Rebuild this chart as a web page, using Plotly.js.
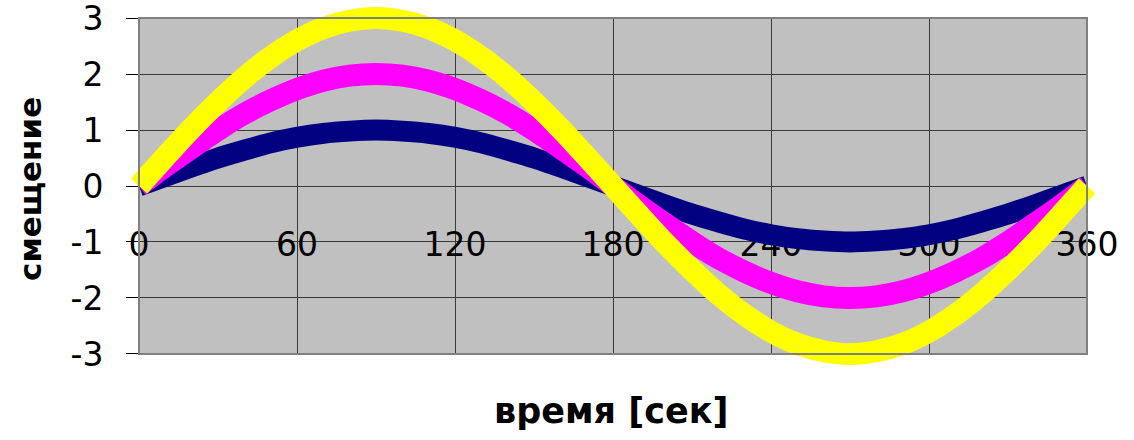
<!DOCTYPE html>
<html>
<head>
<meta charset="utf-8">
<script src="https://cdn.plot.ly/plotly-3.0.1.min.js"></script>
<style>html,body{margin:0;padding:0;background:#fff;}#chart{width:1134px;height:440px;}</style>
</head>
<body>
<div id="chart"></div>
<script>
var xTime = [0,10,20,30,40,50,60,70,80,90,100,110,120,130,140,150,160,170,180,190,200,210,220,230,240,250,260,270,280,290,300,310,320,330,340,350,360];
var amp1 = [0,0.17,0.34,0.5,0.64,0.77,0.87,0.94,0.98,1,0.98,0.94,0.87,0.77,0.64,0.5,0.34,0.17,0,-0.17,-0.34,-0.5,-0.64,-0.77,-0.87,-0.94,-0.98,-1,-0.98,-0.94,-0.87,-0.77,-0.64,-0.5,-0.34,-0.17,0];
var amp2 = [0,0.35,0.68,1,1.29,1.53,1.73,1.88,1.97,2,1.97,1.88,1.73,1.53,1.29,1,0.68,0.35,0,-0.35,-0.68,-1,-1.29,-1.53,-1.73,-1.88,-1.97,-2,-1.97,-1.88,-1.73,-1.53,-1.29,-1,-0.68,-0.35,0];
var amp3 = [0,0.52,1.03,1.5,1.93,2.3,2.6,2.82,2.95,3,2.95,2.82,2.6,2.3,1.93,1.5,1.03,0.52,0,-0.52,-1.03,-1.5,-1.93,-2.3,-2.6,-2.82,-2.95,-3,-2.95,-2.82,-2.6,-2.3,-1.93,-1.5,-1.03,-0.52,0];
var xTicks = [0,60,120,180,240,300,360];
var yTicks = [-3,-2,-1,0,1,2,3];
var xTitle = 'время [сек]';
var yTitle = 'смещение';

// page geometry (px)
var W = 1134, H = 440;
var M = {l: 110, r: 20, t: 2, b: 70};
var PL = 139, PR = 1087, PT = 18, PB = 354; // plot area box
var paperW = W - M.l - M.r, paperH = H - M.t - M.b;
function px2x(p) { return (p - M.l) / paperW; }
function py2y(p) { return (H - M.b - p) / paperH; }
var xMin = 0, xMax = 360, yMin = -3, yMax = 3;
var eps = 0.0005;
var xPerPx = (xMax - xMin) / (PR - PL), yPerPx = (yMax - yMin) / (PB - PT);
var x2Range = [xMin - (PL - M.l) * xPerPx, xMax + (W - M.r - PR) * xPerPx];
var y2Range = [yMin - (H - M.b - PB) * yPerPx, yMax + (PT - M.t) * yPerPx];

function tr(y, color, w) {
  return {x: xTime, y: y, xaxis: 'x2', yaxis: 'y2', type: 'scatter', mode: 'lines',
          line: {color: color, width: w, shape: 'spline', smoothing: 0.8, simplify: false}, hoverinfo: 'skip'};
}
// empty trace so the framed subplot (grid, ticks) exists
var frame = {x: [], y: [], xaxis: 'x', yaxis: 'y', type: 'scatter', mode: 'lines', hoverinfo: 'skip'};
var data = [frame, tr(amp1, '#000080', 21), tr(amp2, '#FF00FF', 22), tr(amp3, '#FFFF00', 22)];

var tickFont = {family: 'DejaVu Sans, Arial, sans-serif', size: 33, color: '#000'};
var layout = {
  width: W, height: H,
  margin: {l: M.l, r: M.r, t: M.t, b: M.b, pad: 0},
  paper_bgcolor: '#ffffff', plot_bgcolor: 'rgba(0,0,0,0)',
  showlegend: false,
  xaxis: {domain: [px2x(PL), px2x(PR)], range: [xMin - eps, xMax + eps], tickvals: xTicks, ticktext: xTicks.map(String),
          anchor: 'free', position: (py2y(PT) + py2y(PB)) / 2, showline: false, zeroline: false,
          showgrid: true, gridcolor: '#3a3a3a', gridwidth: 1, ticks: '', ticklabeloverflow: 'allow',
          ticklabelstandoff: 36, tickfont: tickFont, fixedrange: true},
  yaxis: {domain: [py2y(PB), py2y(PT)], range: [yMin - eps, yMax + eps], tickvals: yTicks, ticktext: yTicks.map(String),
          anchor: 'x', showline: true, linecolor: '#000', linewidth: 1, zeroline: false,
          showgrid: true, gridcolor: '#3a3a3a', gridwidth: 1, ticklabeloverflow: 'allow',
          ticks: 'outside', ticklen: 12, tickcolor: '#000', tickwidth: 1,
          ticklabelstandoff: 16, tickfont: tickFont, fixedrange: true},
  xaxis2: {domain: [0, 1], range: x2Range, visible: false, anchor: 'y2', fixedrange: true},
  yaxis2: {domain: [0, 1], range: y2Range, visible: false, anchor: 'x2', fixedrange: true},
  shapes: [
    {type: 'rect', xref: 'x domain', yref: 'y domain', x0: 0, x1: 1, y0: 0, y1: 1,
     fillcolor: '#C0C0C0', line: {width: 0}, layer: 'below'},
    {type: 'rect', xref: 'paper', yref: 'paper', x0: px2x(PL), x1: px2x(PR), y0: py2y(PB), y1: py2y(PT),
     fillcolor: 'rgba(0,0,0,0)', line: {color: '#808080', width: 2}, layer: 'above'}
  ],
  annotations: [
    {text: xTitle, xref: 'paper', yref: 'paper', x: px2x(611), y: py2y(411), showarrow: false,
     xanchor: 'center', yanchor: 'middle',
     font: {family: 'DejaVu Sans, Arial, sans-serif', size: 35, color: '#000', weight: 'bold'}},
    {text: yTitle, xref: 'paper', yref: 'paper', x: px2x(30), y: py2y(189), showarrow: false,
     textangle: -90, xanchor: 'center', yanchor: 'middle',
     font: {family: 'DejaVu Sans, Arial, sans-serif', size: 31, color: '#000', weight: 'bold'}}
  ]
};
Plotly.newPlot('chart', data, layout, {displayModeBar: false, staticPlot: true});
</script>
</body>
</html>
